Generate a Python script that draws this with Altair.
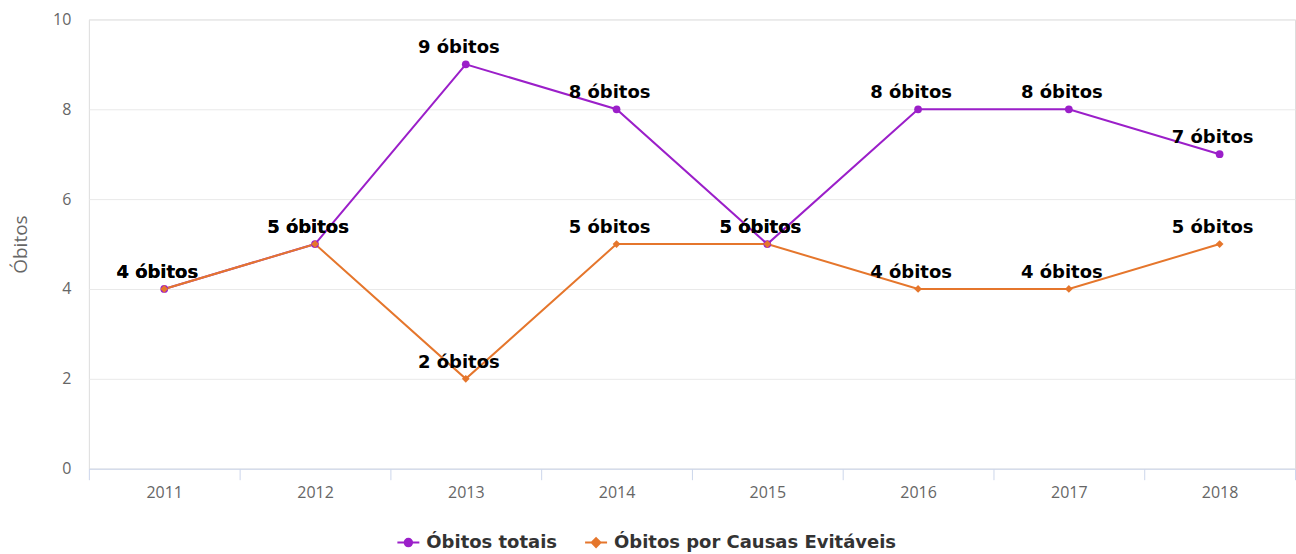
import altair as alt
import pandas as pd

anos = ["2011", "2012", "2013", "2014", "2015", "2016", "2017", "2018"]
obitos_totais = [4, 5, 9, 8, 5, 8, 8, 7]
obitos_evitaveis = [4, 5, 2, 5, 5, 4, 4, 5]
series = ["Óbitos totais", "Óbitos por Causas Evitáveis"]
cores = ["#9b1fc9", "#e5762c"]

rows = []
for i, a in enumerate(anos):
    rows.append({"ano": a, "serie": series[0], "valor": obitos_totais[i], "ordem": 0})
for i, a in enumerate(anos):
    rows.append({"ano": a, "serie": series[1], "valor": obitos_evitaveis[i], "ordem": 1})
df = pd.DataFrame(rows)
df["rotulo"] = df["valor"].astype(str) + " óbitos"

FONT = "Open Sans"
BOLD_FONT = "DejaVu Sans"

x_enc = alt.X(
    "ano:O",
    title=None,
    bandPosition=0.5,
    scale=alt.Scale(type="band", paddingInner=0, paddingOuter=0),
    axis=alt.Axis(
        labelAngle=0, tickBand="extent", tickSize=11, tickColor="#ccd6eb",
        domainColor="#ccd6eb", labelColor="#666666", labelFontSize=16,
        labelPadding=5, grid=False, labelFont=FONT,
    ),
)
y_enc = alt.Y(
    "valor:Q",
    title="Óbitos",
    scale=alt.Scale(domain=[0, 10], nice=False),
    axis=alt.Axis(
        values=[0, 2, 4, 6, 8, 10], grid=True, gridColor="#e9e9e9", domain=False,
        ticks=False, labelColor="#666666", labelFontSize=16, labelPadding=18,
        titleColor="#666666", titleFontSize=19, titleFontWeight="normal",
        titlePadding=22, labelFont=FONT, titleFont=FONT,
    ),
)
# color scale: domain from the data (kept apart from the legend's scales)
color_enc = alt.Color("serie:N", sort=series, scale=alt.Scale(range=cores), legend=None)

base = alt.Chart(df).encode(x=x_enc, y=y_enc, color=color_enc, order="ordem:Q")

linhas = base.mark_line(strokeWidth=2)

pontos_totais = base.transform_filter(alt.datum.serie == series[0]).mark_point(
    filled=True, shape="circle", size=60, opacity=1
)
pontos_evit = base.transform_filter(alt.datum.serie == series[1]).mark_point(
    filled=True, shape="diamond", size=60, opacity=1
)

rotulos = base.mark_text(
    fontWeight="bold", fontSize=18, baseline="alphabetic", dy=-11, dx=-7,
    color="#000000", font=BOLD_FONT,
).encode(text="rotulo:N", color=alt.value("#000000"))

leg = alt.Legend(
    title=None, orient="none", direction="horizontal",
    legendX=308, legendY=512, padding=0,
    labelFontSize=18, labelFontWeight="bold", labelColor="#333333", labelFont=BOLD_FONT,
    labelLimit=600, symbolSize=484, symbolStrokeWidth=2, symbolOpacity=1, labelOffset=6,
    columnPadding=24,
)
escala_serie = alt.Scale(domain=series, range=cores)
forma_legenda = alt.Chart(df).transform_filter(alt.datum.valor < 0).mark_point(filled=True).encode(
    x=x_enc, y=y_enc,
    fill=alt.Fill("serie:N", scale=escala_serie, legend=leg),
    stroke=alt.Stroke("serie:N", scale=escala_serie, legend=leg),
    shape=alt.Shape(
        "serie:N",
        scale=alt.Scale(
            domain=series,
            range=[
                "M-1,0L1,0M-0.34,0A0.34,0.34 0 1,0 0.34,0A0.34,0.34 0 1,0 -0.34,0Z",
                "M-1,0L1,0M0,-0.4L0.4,0L0,0.4L-0.4,0Z",
            ],
        ),
        legend=leg,
    ),
)

chart = alt.layer(linhas, pontos_totais, pontos_evit, rotulos, forma_legenda).properties(
    width=1208, height=450,
    padding={"left": 11, "top": 11, "right": 0, "bottom": 4},
).configure_view(stroke=None).configure(font=FONT, background="white")

chart.save("out.html", embed_options={"renderer": "svg", "actions": False})
